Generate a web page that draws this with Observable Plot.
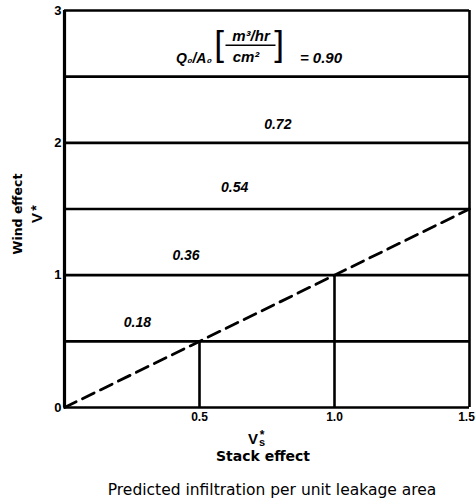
<!DOCTYPE html>
<html>
<head>
<meta charset="utf-8">
<script src="https://cdn.jsdelivr.net/npm/d3@7"></script>
<script src="https://cdn.jsdelivr.net/npm/@observablehq/plot@0.6"></script>
<style>
  html, body { margin: 0; padding: 0; background: #fff; }
  svg { display: block; }
</style>
</head>
<body>
<div id="chart"></div>
<script>
// ---- data ----
const levels = [0.5, 1.0, 1.5, 2.0, 2.5];          // wind-effect boundaries (horizontal lines)
const topLevel = 3.0;
const stackCuts = [0.5, 1.0];                        // stack-effect boundaries (vertical lines)
const diagonalX = [0, 1.5];
const diagonalY = [0, 1.5];
const rateLabels = ["0.18", "0.36", "0.54", "0.72"]; // Q0/A0 values [m3/hr / cm2]
const rateLabelX = [0.27, 0.45, 0.63, 0.79];
const rateLabelY = [0.64, 1.15, 1.66, 2.14];
const topRate = "0.90";
const topRateX = 0.95, topRateY = 2.64;
const xTicksInner = [0.5, 1.0];
const xTickEdge = [1.5];
const yTicks = [0, 1, 2, 3];

const font = "'Liberation Sans', Arial, sans-serif";
const font2 = "'DejaVu Sans', sans-serif";
const lw = 2.6;

const chart = Plot.plot({
  width: 475,
  height: 498,
  marginLeft: 64,
  marginRight: 6,
  marginTop: 10,
  marginBottom: 91,
  style: {fontFamily: font, color: "#000", background: "#fff"},
  x: {domain: [0, 1.5], label: null, axis: null},
  y: {domain: [0, 3], label: null, axis: null},
  marks: [
    Plot.axisX({ticks: xTicksInner, tickFormat: d => d.toFixed(1), tickSize: 0, tickPadding: 5, fontSize: 12, fontWeight: "bold", label: null}),
    Plot.axisX({ticks: xTickEdge, tickFormat: d => d.toFixed(1), tickSize: 0, tickPadding: 5, dx: -3, fontSize: 12, fontWeight: "bold", label: null}),
    Plot.axisY({ticks: yTicks, tickFormat: d => String(d), tickSize: 0, tickPadding: 3, fontSize: 13, fontWeight: "bold", label: null}),
    // frame
    Plot.ruleX([0], {y1: 0, y2: topLevel, stroke: "#000", strokeWidth: 3.2}),
    Plot.ruleX([1.5], {y1: 0, y2: topLevel, stroke: "#000", strokeWidth: lw}),
    Plot.ruleY([0], {stroke: "#000", strokeWidth: lw}),
    Plot.ruleY([topLevel], {stroke: "#000", strokeWidth: lw}),
    // horizontal boundaries
    Plot.ruleY(levels, {stroke: "#000", strokeWidth: lw}),
    // vertical boundaries
    Plot.ruleX(stackCuts, {y1: 0, y2: d => d, stroke: "#000", strokeWidth: lw}),
    // diagonal dashed
    Plot.line(diagonalX.map((x, i) => ({x, y: diagonalY[i]})), {x: "x", y: "y", stroke: "#000", strokeWidth: 2.8, strokeDasharray: "13,7"}),
    // rate labels
    Plot.text(rateLabels, {x: (d, i) => rateLabelX[i], y: (d, i) => rateLabelY[i], text: d => d, fontSize: 14, fontStyle: "italic", fontWeight: "bold"}),
    // top label: Q0/A0 [m3/hr / cm2] = 0.90
    Plot.text([topRate], {x: topRateX, y: topRateY, text: d => "= " + d, fontSize: 15, fontStyle: "italic", fontWeight: "bold"}),
    Plot.text(["Q₀/A₀"], {x: topRateX, y: topRateY, dx: -127, text: d => d, fontSize: 14, fontStyle: "italic", fontWeight: "bold"}),
    Plot.text(["["], {x: topRateX, y: topRateY, dx: -102, dy: -13, text: d => d, fontSize: 35, fontWeight: "normal"}),
    Plot.text(["]"], {x: topRateX, y: topRateY, dx: -42, dy: -13, text: d => d, fontSize: 35, fontWeight: "normal"}),
    Plot.text(["m³/hr"], {x: topRateX, y: topRateY, dx: -70, dy: -22, text: d => d, fontSize: 15, fontStyle: "italic", fontWeight: "bold"}),
    Plot.text(["cm²"], {x: topRateX, y: topRateY, dx: -75, dy: -1, text: d => d, fontSize: 15, fontStyle: "italic", fontWeight: "bold"}),
    Plot.ruleY([topRateY], {x1: topRateX - 95 / 270, x2: topRateX - 45 / 270, dy: -13, stroke: "#000", strokeWidth: 1.5}),
    // y-axis title
    Plot.text(["Wind effect"], {frameAnchor: "left", textAnchor: "middle", lineAnchor: "middle", dx: -47, dy: 5, rotate: -90, text: d => d, fontSize: 12.5, fontWeight: "bold", fontFamily: font2}),
    Plot.text(["V"], {frameAnchor: "left", textAnchor: "middle", lineAnchor: "middle", dx: -27, dy: 9, rotate: -90, text: d => d, fontSize: 15, fontWeight: "bold"}),
    Plot.text(["*"], {frameAnchor: "left", textAnchor: "middle", lineAnchor: "middle", dx: -28, dy: -1, rotate: -90, text: d => d, fontSize: 14, fontWeight: "bold"}),
    // x-axis title
    Plot.text(["V"], {frameAnchor: "bottom", dx: -14, dy: 36, text: d => d, fontSize: 15, fontWeight: "bold"}),
    Plot.text(["*"], {frameAnchor: "bottom", dx: -5, dy: 31, text: d => d, fontSize: 12, fontWeight: "bold"}),
    Plot.text(["s"], {frameAnchor: "bottom", dx: -5, dy: 38, text: d => d, fontSize: 11, fontWeight: "bold"}),
    Plot.text(["Stack effect"], {frameAnchor: "bottom", dx: -4, dy: 53, text: d => d, fontSize: 14, fontWeight: "bold", fontFamily: font2}),
    Plot.text(["Predicted infiltration per unit leakage area"], {frameAnchor: "bottom", dx: 5, dy: 87, text: d => d, fontSize: 15.5, fontFamily: font2})
  ]
});
document.getElementById("chart").appendChild(chart);
</script>
</body>
</html>
